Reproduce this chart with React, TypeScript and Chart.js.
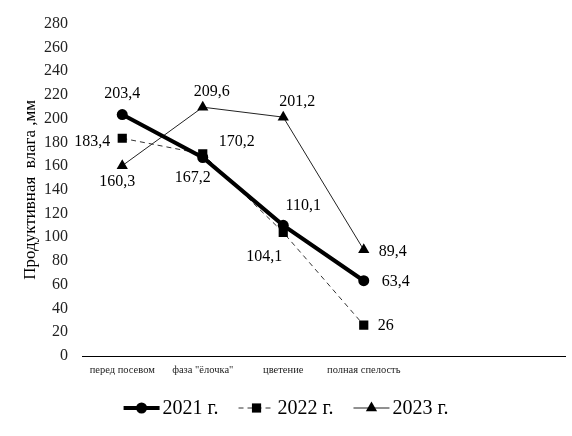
import { useEffect, useRef } from "react";
import { Chart, registerables } from "chart.js";

Chart.register(...registerables);

const categories = ["перед посевом", "фаза \"ёлочка\"", "цветение", "полная спелость", "", ""];
const seriesNames = ["2021 г.", "2022 г.", "2023 г."];
const values2021 = [203.4, 167.2, 110.1, 63.4];
const values2022 = [183.4, 170.2, 104.1, 26];
const values2023 = [160.3, 209.6, 201.2, 89.4];
const yMin = 0;
const yMax = 280;
const yStep = 20;
const yTitle = "Продуктивная  влага ,мм";

// label offsets relative to point (px)
const labelOffsets2021 = [[0, -21], [-10, 20], [20, -19], [32, 1]];
const labelOffsets2022 = [[-30, 4], [34, -12], [-19, 24], [22, 1]];
const labelOffsets2023 = [[-5, 16], [9, -15], [14, -15], [29, 2]];

const SERIF = '"Liberation Serif", "Times New Roman", serif';

const fmt = (v: number) => String(v).replace(".", ",");

export default function App() {
  const ref = useRef<HTMLCanvasElement | null>(null);

  useEffect(() => {
    const canvas = ref.current;
    if (!canvas) return;
    const offsets = [labelOffsets2021, labelOffsets2022, labelOffsets2023];

    function drawMarker(ctx: CanvasRenderingContext2D, style: string, r: number, x: number, y: number) {
      ctx.beginPath();
      if (style === "circle") {
        ctx.arc(x, y, r, 0, Math.PI * 2);
      } else if (style === "rect") {
        const s = Math.SQRT1_2 * r;
        ctx.rect(x - s, y - s, 2 * s, 2 * s);
      } else if (style === "triangle") {
        let rad = 0;
        ctx.moveTo(x + Math.sin(rad) * r, y - Math.cos(rad) * r);
        rad += (2 * Math.PI) / 3;
        ctx.lineTo(x + Math.sin(rad) * r, y - Math.cos(rad) * r);
        rad += (2 * Math.PI) / 3;
        ctx.lineTo(x + Math.sin(rad) * r, y - Math.cos(rad) * r);
        ctx.closePath();
      }
      ctx.fill();
    }

    const labelPlugin = {
      id: "valueLabels",
      afterDatasetsDraw(chart: any) {
        const ctx = chart.ctx;
        ctx.save();
        ctx.font = `16px ${SERIF}`;
        ctx.fillStyle = "#000";
        ctx.textAlign = "center";
        ctx.textBaseline = "middle";
        chart.data.datasets.forEach((ds: any, di: number) => {
          const meta = chart.getDatasetMeta(di);
          meta.data.forEach((pt: any, i: number) => {
            const v = ds.data[i];
            if (v == null) return;
            const o = offsets[di][i];
            ctx.fillText(fmt(v), pt.x + o[0], pt.y + o[1]);
          });
        });
        ctx.restore();
      },
    };

    const legendPlugin = {
      id: "lineLegend",
      afterDraw(chart: any) {
        const ctx = chart.ctx;
        ctx.save();
        ctx.font = `20px ${SERIF}`;
        const sample = 36;
        const gap = 3;
        const itemGap = 20;
        const widths = chart.data.datasets.map((ds: any) => sample + gap + ctx.measureText(ds.label).width);
        const total = widths.reduce((a: number, b: number) => a + b, 0) + itemGap * (widths.length - 1);
        let x = chart.width / 2 - total / 2;
        const y = 408;
        chart.data.datasets.forEach((ds: any, di: number) => {
          ctx.save();
          ctx.strokeStyle = ds.borderColor;
          ctx.lineWidth = ds.borderWidth;
          ctx.setLineDash(ds.borderDash || []);
          ctx.beginPath();
          ctx.moveTo(x, y);
          ctx.lineTo(x + sample, y);
          ctx.stroke();
          ctx.restore();
          ctx.save();
          ctx.fillStyle = ds.pointBackgroundColor;
          drawMarker(ctx, ds.pointStyle, ds.pointRadius, x + sample / 2, y);
          ctx.restore();
          ctx.fillStyle = "#000";
          ctx.textAlign = "left";
          ctx.textBaseline = "middle";
          ctx.fillText(ds.label, x + sample + gap, y + 1);
          x += widths[di] + itemGap;
        });
        ctx.restore();
      },
    };

    const chart = new Chart(canvas, {
      type: "line",
      data: {
        labels: categories,
        datasets: [
          {
            label: seriesNames[0],
            data: values2021,
            borderColor: "#000",
            backgroundColor: "#000",
            borderWidth: 4,
            pointStyle: "circle",
            pointRadius: 5.5,
            pointBackgroundColor: "#000",
            pointBorderColor: "#000",
            pointBorderWidth: 0,
            tension: 0,
            fill: false,
          },
          {
            label: seriesNames[1],
            data: values2022,
            borderColor: "#333",
            backgroundColor: "#000",
            borderWidth: 1,
            borderDash: [5, 4],
            pointStyle: "rect",
            pointRadius: 6.5,
            pointBackgroundColor: "#000",
            pointBorderColor: "#000",
            pointBorderWidth: 0,
            tension: 0,
            fill: false,
          },
          {
            label: seriesNames[2],
            data: values2023,
            borderColor: "#222",
            backgroundColor: "#000",
            borderWidth: 1,
            pointStyle: "triangle",
            pointRadius: 6.5,
            pointBackgroundColor: "#000",
            pointBorderColor: "#000",
            pointBorderWidth: 0,
            tension: 0,
            fill: false,
          },
        ] as any,
      },
      options: {
        responsive: false,
        animation: false,
        layout: { padding: { left: 20, right: 7, top: 15, bottom: 50 } },
        plugins: {
          legend: { display: false },
          tooltip: { enabled: false },
        },
        scales: {
          x: {
            offset: true,
            grid: { display: false, drawTicks: false },
            border: { display: true, color: "#000", width: 1 },
            ticks: {
              color: "#222",
              font: { family: SERIF, size: 10.5 },
              maxRotation: 0,
              autoSkip: false,
              padding: 8,
            },
            afterFit: (scale: any) => {
              scale.height = 30;
            },
          },
          y: {
            min: yMin,
            max: yMax,
            grid: { display: false, drawTicks: false },
            border: { display: false },
            ticks: {
              stepSize: yStep,
              color: "#222",
              font: { family: SERIF, size: 16 },
              padding: 14,
            },
            title: {
              display: true,
              text: yTitle,
              color: "#000",
              font: { family: SERIF, size: 17 },
              padding: 0,
            },
            afterFit: (scale: any) => {
              scale.width = 62;
            },
          },
        },
      } as any,
      plugins: [labelPlugin, legendPlugin],
    });

    return () => chart.destroy();
  }, []);

  return (
    <div style={{ position: "fixed", left: 0, top: 0, width: 572, height: 436, background: "#fff" }}>
      <canvas ref={ref} width={572} height={436} style={{ display: "block" }} />
    </div>
  );
}
